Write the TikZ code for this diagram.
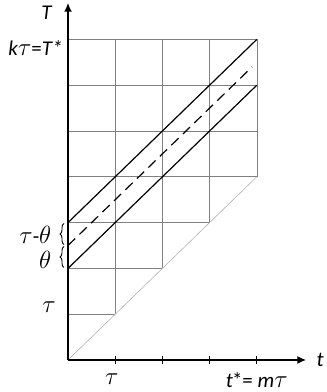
\documentclass[tikz,border=0pt]{standalone}
\usepackage{fontspec}
\setmainfont{Carlito}
\usetikzlibrary{decorations.pathreplacing, arrows.meta}
\newcommand\grk[1]{{\fontsize{24}{26}\selectfont$#1$}}

\begin{document}
\begin{tikzpicture}[x=47.2pt, y=45.8pt, font=\fontsize{21}{24}\selectfont,
    gridline/.style={gray, line width=0.6pt},
    diagline/.style={gray!60, line width=0.6pt},
    axisline/.style={line width=2.2pt, -{Latex[length=9pt, width=8pt]}},
    mainline/.style={line width=1.2pt},
    brc/.style={decorate, decoration={brace, amplitude=4pt}, line width=0.9pt}]
    % Настройки
    \def\m{4} % число шагов по t
    \def\k{7} % число шагов по T

    \useasboundingbox (-1.441,-0.699) rectangle (5.466,7.860);

    % Координаты
    \coordinate (O) at (0,0);
    \coordinate (Tend) at (0,7.8);
    \coordinate (tend) at (5.05,0);
    \coordinate (D) at (\m,\m);           % конец диагонали
    \coordinate (L1) at (0,2);            % нижняя линия
    \coordinate (L2) at (\m,6);
    \coordinate (U1) at (0,3);            % верхняя линия
    \coordinate (U2) at (\m,\k);
    \coordinate (H1) at (0,2.5);          % пунктир
    \coordinate (H2) at (3.9,6.4);

    % Сетка
    \foreach \i in {1,...,\k} {
        \pgfmathsetmacro\r{min(\i,\m)}
        \draw[gridline] (0,\i) -- (\r,\i);
    }
    \foreach \i in {1,...,\m}
        \draw[gridline] (\i,\i) -- (\i,\k);
    \draw[diagline] (O) -- (D);

    % Оси координат
    \draw[axisline] (O) -- (Tend);
    \draw[axisline] (O) -- (tend);
    \foreach \i in {1,...,\m}
        \draw[line width=1.2pt] (\i,-0.08) -- (\i,0.08);

    % Основные линии
    \draw[mainline] (L1) -- (L2);
    \draw[mainline] (U1) -- (U2);
    \draw[mainline, dash pattern=on 10pt off 6pt] (H1) -- (H2);

    % Фигурные скобки
    \draw[brc] (-0.085,2.02) -- (-0.085,2.48);
    \draw[brc] (-0.085,2.52) -- (-0.085,2.98);

    % Подписи
    \node (lT) at (-0.445,7.59) {\textit{T}};
    \node[anchor=east] (lk) at (-0.04,6.82) {\textit{k}\grk{\tau}=\textit{T*}};
    \node[anchor=east] (ltt) at (-0.28,2.73) {\grk{\tau}-\grk{\theta}};
    \node[anchor=east] (lth) at (-0.28,2.18) {\grk{\theta}};
    \node (ltau) at (-0.40,1.16) {\grk{\tau}};
    \node (btau) at (0.93,-0.42) {\grk{\tau}};
    \node (bm) at (4.0,-0.43) {\textit{t}\kern-1pt*= \textit{m}\grk{\tau}};
    \node (lt) at (5.34,0.0) {\textit{t}};

\end{tikzpicture}
\end{document}
